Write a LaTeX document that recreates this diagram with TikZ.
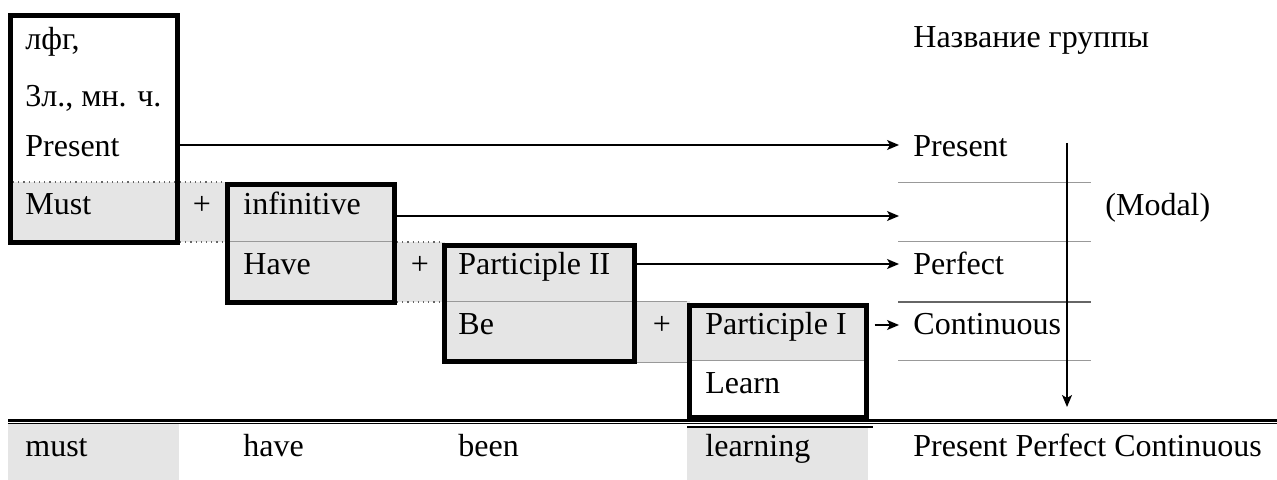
\documentclass[tikz,border=0pt]{standalone}
\usepackage{fontspec}
\setmainfont{Liberation Serif}
\usepackage{xcolor}
\usepackage{tikz}
\usetikzlibrary{arrows.meta}

\begin{document}
\begin{tikzpicture}[x=0.5pt,y=-0.5pt]
			\tikzstyle{word} = [anchor=base west, inner sep=0pt, font=\fontsize{16}{19}\selectfont]
			\tikzstyle{plus} = [anchor=base, inner sep=0pt, font=\fontsize{16}{19}\selectfont]
			\tikzstyle{frame} = [draw, line width=2.5pt, anchor=north west, inner sep=0pt, outer sep=0pt]
			\tikzstyle{shade} = [fill=black!10]
			\tikzstyle{rule} = [draw=black!40, line width=0.5pt]
			\tikzstyle{dots} = [draw=black!60, dotted, line width=0.6pt]
			\tikzset{edge/.style = {->,> = {Stealth[length=6pt,width=5pt,inset=1.5pt]}, line width=0.7pt}}
			
			\useasboundingbox (0,0) rectangle (1277,480);
			
			% shaded cells
			\fill[shade] (10.5,182) rectangle (227.5,242.5);
			\fill[shade] (227.5,184.5) rectangle (394.5,302.5);
			\fill[shade] (394.5,242) rectangle (444.5,302);
			\fill[shade] (444.5,245.5) rectangle (634.5,361.5);
			\fill[shade] (634.5,301) rectangle (689.5,362);
			\fill[shade] (689.5,305.5) rectangle (866.5,360);
			\fill[shade] (8,424) rectangle (179,480);
			\fill[shade] (687,427) rectangle (868,480);
			
			% cell borders
			\draw[dots] (13,182) -- (225,182);
			\draw[dots] (180,242) -- (225,242);
			\draw[dots] (397,242) -- (442,242);
			\draw[dots] (397,302) -- (442,302);
			\draw[rule] (227.5,242) -- (394.5,242);
			\draw[rule] (444.5,301) -- (687,301);
			\draw[rule] (637,362) -- (687,362);
			\draw[rule] (689.5,360) -- (866.5,360);
			
			% double rule
			\draw[line width=1.1pt] (8,420.5) -- (1277,420.5);
			\draw[line width=0.6pt] (8,423.5) -- (1277,423.5);
			\draw[line width=1pt] (687,427) -- (873,427);
			
			% boxes
			\node[frame, minimum width=83.5pt, minimum height=113.5pt](box1) at (10.5,15.5) {};
			\node[frame, minimum width=83.5pt, minimum height=59pt](box2)    at (227.5,184.5) {};
			\node[frame, minimum width=95pt, minimum height=58pt](box3)      at (444.5,245.5) {};
			\node[frame, minimum width=88.5pt, minimum height=56pt](box4)    at (689.5,305.5) {};
			
			% left column
			\node[word](lfg)      at (25,50)  {лфг,};
			\node[word](person)   at (25,107) {3л., мн. ч.};
			\node[word](lpresent) at (25,157) {Present};
			\node[word](must)     at (25,215) {Must};
			\node[plus](plus1)    at (202,215) {+};
			
			% steps
			\node[word](infinitive) at (243,215) {infinitive};
			\node[word](have)       at (243,275) {Have};
			\node[plus](plus2)      at (420,275) {+};
			\node[word](partII)     at (458,275) {Participle II};
			\node[word](be)         at (458,334) {Be};
			\node[plus](plus3)      at (662,334) {+};
			\node[word](partI)      at (705,334) {Participle I};
			\node[word](learn)      at (705,393) {Learn};
			
			% result row
			\node[word](wmust)     at (25,456)  {must};
			\node[word](whave)     at (243,456) {have};
			\node[word](wbeen)     at (458,456) {been};
			\node[word](wlearning) at (705,456) {learning};
			\node[word](wname)     at (913,456) {Present Perfect Continuous};
			
			% group names
			\node[word](group)       at (913,48)   {Название группы};
			\node[word](rpresent)    at (913,157)  {Present};
			\node[word](rperfect)    at (913,275)  {Perfect};
			\node[word](rcontinuous) at (913,334)  {Continuous};
			\node[word](modal)       at (1105,216) {(Modal)};
			\foreach \y in {183,242,360}
				\draw[rule] (898,\y) -- (1091,\y);
			\draw[rule, draw=black!60, line width=0.9pt] (898,302) -- (1091,302);
			
			% arrows
			\coordinate (t1) at (899,145);
			\coordinate (t2) at (899,216);
			\coordinate (t3) at (899,264);
			\coordinate (t4) at (899,325);
			\draw[edge](box1.east |- t1) to (t1);
			\draw[edge](box2.east |- t2) to (t2);
			\draw[edge](box3.east |- t3) to (t3);
			\draw[edge]([xshift=4pt]box4.east |- t4) to (t4);
			\coordinate (vtop) at (1067,143);
			\coordinate (vbot) at (1067,407);
			\draw[edge](vtop) to (vbot);
\end{tikzpicture}
\end{document}
